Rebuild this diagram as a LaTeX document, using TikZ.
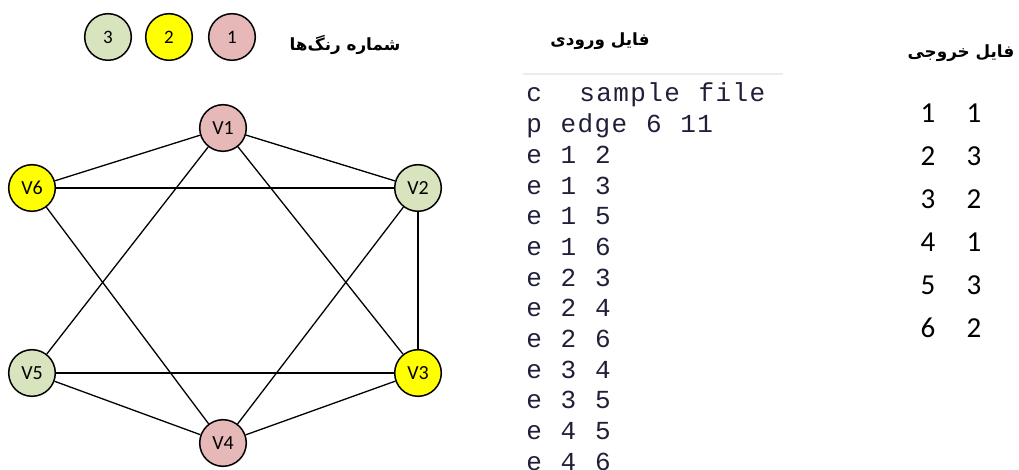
\documentclass[tikz,border=0pt]{standalone}
\usepackage{fontspec}
\setmainfont{Carlito}
\newfontfamily\persianfont[Script=Arabic]{DejaVu Sans}
\newfontfamily\codefont[LetterSpace=5.4,WordSpace=1.1]{Liberation Mono}
\TeXXeTstate=1
\usepackage{xcolor}
\definecolor{colorOne}{HTML}{E6B9B8}
\definecolor{colorTwo}{HTML}{FFFF00}
\definecolor{colorThree}{HTML}{D7E4BD}
\definecolor{codeInk}{HTML}{1F1F3A}
\usetikzlibrary{positioning,calc}

\begin{document}
\begin{tikzpicture}[x=0.5pt, y=-0.5pt,
  vtx/.style={circle, draw=black, line width=0.75pt, minimum size=23.3pt, inner sep=0pt, font=\fontsize{10}{12}\selectfont},
  cOne/.style={vtx, fill=colorOne},
  cTwo/.style={vtx, fill=colorTwo},
  cThree/.style={vtx, fill=colorThree},
  link/.style={draw=black, line width=0.65pt},
  heading/.style={font=\persianfont\bfseries\fontsize{8.4}{10}\selectfont, inner sep=0pt},
  codeLine/.style={anchor=base west, inner sep=0pt, text=codeInk, font=\codefont\fontsize{13}{15}\selectfont},
  outDigit/.style={font=\fontsize{14.5}{17}\selectfont, inner sep=0pt},
]

\useasboundingbox (0,0) rectangle (1019,470);

% legend of colour numbers
\foreach \name/\cls/\x/\num in {lgThree/cThree/108/3, lgTwo/cTwo/169/2, lgOne/cOne/232/1} {
  \node[\cls, font=\fontsize{9.5}{11}\selectfont] (\name) at (\x,37) {\num};
}
\node[heading] (lgTitle) at (345,45) {\beginR شماره رنگ‌ها\endR};

% graph: six vertices, coloured with three colours
\foreach \i/\cls/\x/\y in {1/cOne/223/128, 2/cThree/418/188, 3/cTwo/418/373,
                           4/cOne/223/443, 5/cThree/32/373, 6/cTwo/32/188} {
  \node[\cls] (v\i) at (\x,\y) {V\i};
}
\foreach \a/\b in {1/2,1/3,1/5,1/6,2/3,2/4,2/6,3/4,3/5,4/5,4/6} {
  \draw[link] (v\a) -- (v\b);
}

% input file
\node[heading] (inTitle) at (600,41) {\beginR فایل ورودی\endR};
\draw[draw=gray!15, line width=1.3pt] (523,74) -- (783,74);
\foreach \i/\txt in {0/c\ \ sample file, 1/p edge 6 11, 2/e 1 2, 3/e 1 3, 4/e 1 5,
                     5/e 1 6, 6/e 2 3, 7/e 2 4, 8/e 2 6, 9/e 3 4, 10/e 3 5,
                     11/e 4 5, 12/e 4 6} {
  \node[codeLine] (line\i) at (526,{102+30.7*\i}) {\txt};
}

% output file (vertex, colour)
\node[heading] (outTitle) at (961,53) {\beginR فایل خروجی\endR};
\foreach \i/\a/\b in {0/1/1, 1/2/3, 2/3/2, 3/4/1, 4/5/3, 5/6/2} {
  \node[outDigit] (outV\i) at (928,{113+43*\i}) {\a};
  \node[outDigit] (outC\i) at (974,{113+43*\i}) {\b};
}

\end{tikzpicture}
\end{document}
